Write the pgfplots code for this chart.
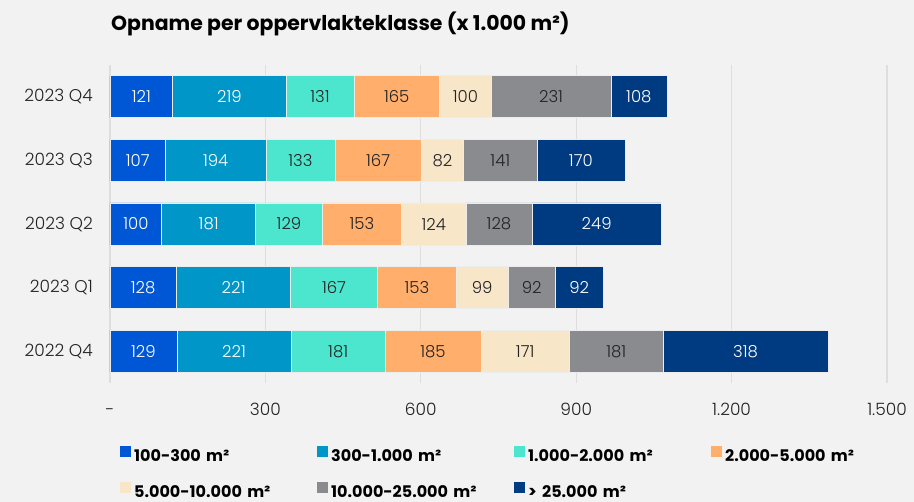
\documentclass[border=0pt]{standalone}
\usepackage{fontspec}
\setmainfont{Poppins}
\newfontfamily\lightfont{Poppins Light}
\usepackage{pgfplots}
\pgfplotsset{compat=1.18}
\definecolor{bg}{HTML}{F2F2F2}
\definecolor{gridc}{HTML}{DEDEDE}
\definecolor{cA}{HTML}{0057D6}
\definecolor{cB}{HTML}{0096C8}
\definecolor{cC}{HTML}{4CE6CE}
\definecolor{cD}{HTML}{FFAE6C}
\definecolor{cE}{HTML}{F8E6C9}
\definecolor{cF}{HTML}{8A8B8E}
\definecolor{cG}{HTML}{003A80}
\definecolor{txt}{HTML}{222222}
\begin{document}
\begin{tikzpicture}
\fill[bg] (-110pt,-119pt) rectangle (804pt,383pt);
\useasboundingbox (-110pt,-119pt) rectangle (804pt,383pt);
\node[anchor=west, inner sep=0pt, font=\bfseries\fontsize{20.4}{24}\selectfont] at (1pt,359pt) {Opname per oppervlakteklasse (x 1.000 m²)};
\begin{axis}[
  at={(0pt,0pt)}, anchor=south west,
  scale only axis, width=777pt, height=318pt,
  xbar stacked, bar width=42pt,
  xmin=0, xmax=1500, ymin=-0.5, ymax=4.5,
  xtick={0,300,600,900,1200,1500},
  xticklabels={-,300,600,900,1.200,1.500},
  ytick={0,1,2,3,4},
  yticklabels={2022 Q4,2023 Q1,2023 Q2,2023 Q3,2023 Q4},
  axis line style={draw=none},
  major tick length=0pt,
  xmajorgrids, grid style={draw=gridc, line width=1.3pt},
  /pgf/number format/assume math mode=true,
  tick label style={font=\lightfont\fontsize{17}{20}\selectfont, text=txt},
  xticklabel style={anchor=center, yshift=-27pt, text height=12pt, text depth=0pt},
  yticklabel style={anchor=east, inner sep=0pt, xshift=-17pt},
  point meta=explicit symbolic,
  nodes near coords,
  every node near coord/.append style={anchor=center, font=\lightfont\fontsize{16.5}{18}\selectfont},
  every axis plot/.append style={draw=white!85!gray, line width=0.6pt},
  legend columns=4,
  legend cell align=left,
  legend image code/.code={\fill[#1, draw=none] (0pt,-1pt) rectangle (11pt,10pt);},
  legend style={at={(0,0)}, anchor=north west, xshift=10pt, yshift=-63pt,
    draw=none, fill=none, inner sep=0pt, row sep=19pt,
    font=\bfseries\fontsize{16}{18}\selectfont,
    nodes={text width=183pt, align=left, inner sep=0pt, text height=12pt, text depth=1pt},
    /tikz/every odd column/.append style={column sep=3pt}},
]
\addplot[fill=cA, every node near coord/.append style={text=white}] coordinates {(129,0)[129] (128,1)[128] (100,2)[100] (107,3)[107] (121,4)[121]};
\addplot[fill=cB, every node near coord/.append style={text=white}] coordinates {(221,0)[221] (221,1)[221] (181,2)[181] (194,3)[194] (219,4)[219]};
\addplot[fill=cC, every node near coord/.append style={text=txt}] coordinates {(181,0)[181] (167,1)[167] (129,2)[129] (133,3)[133] (131,4)[131]};
\addplot[fill=cD, every node near coord/.append style={text=txt}] coordinates {(185,0)[185] (153,1)[153] (153,2)[153] (167,3)[167] (165,4)[165]};
\addplot[fill=cE, every node near coord/.append style={text=txt}] coordinates {(171,0)[171] (99,1)[99] (124,2)[124] (82,3)[82] (100,4)[100]};
\addplot[fill=cF, every node near coord/.append style={text=txt}] coordinates {(181,0)[181] (92,1)[92] (128,2)[128] (141,3)[141] (231,4)[231]};
\addplot[fill=cG, every node near coord/.append style={text=white}] coordinates {(318,0)[318] (92,1)[92] (249,2)[249] (170,3)[170] (108,4)[108]};
\legend{100-300 m²,300-1.000 m²,1.000-2.000 m²,2.000-5.000 m²,5.000-10.000 m²,10.000-25.000 m²,> 25.000 m²}
\end{axis}
\end{tikzpicture}
\end{document}
